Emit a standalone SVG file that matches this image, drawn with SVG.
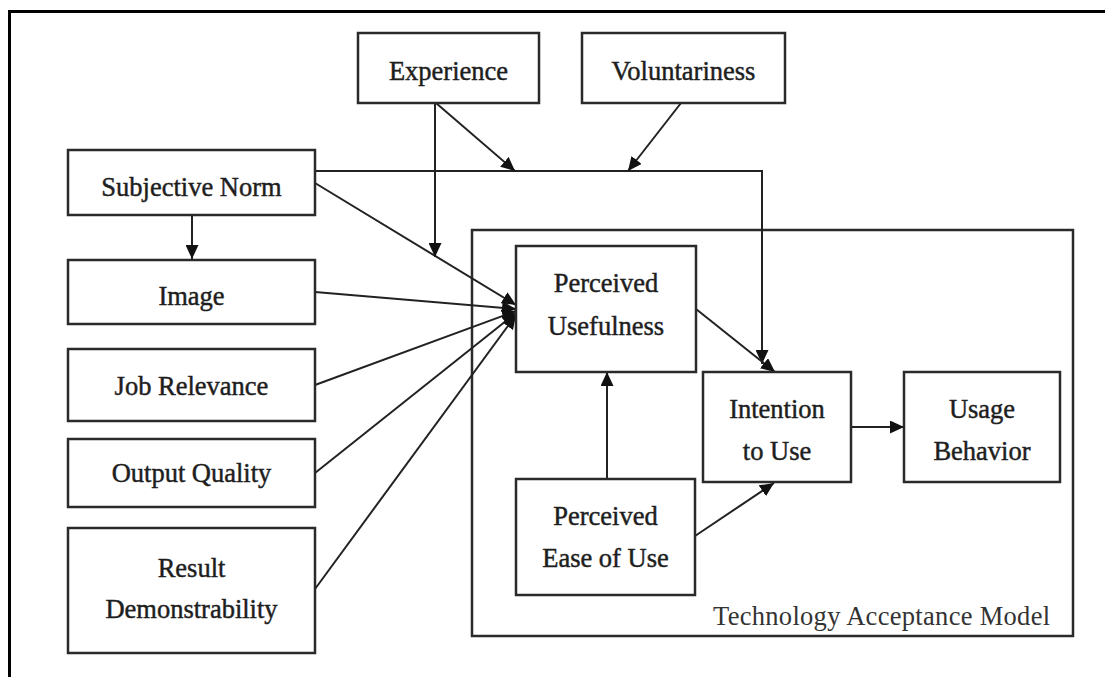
<svg xmlns="http://www.w3.org/2000/svg" width="1105" height="677" viewBox="0 0 1105 677">
  <style>
    .box { fill: #ffffff; stroke: #2a2a2a; stroke-width: 2.5; }
    .lbl { font-family: "Liberation Serif", "Times New Roman", serif; font-size: 26.5px; fill: #1e1e1e; stroke: #1e1e1e; stroke-width: 0.45; text-anchor: middle; }
    .cap { font-family: "Liberation Serif", "Times New Roman", serif; font-size: 26.5px; fill: #333333; letter-spacing: 0.3px; }
    .edge { fill: none; stroke: #222222; stroke-width: 2; }
    .frame { fill: none; stroke: #000000; stroke-width: 3; }
  </style>
  <defs>
    <marker id="arrow" markerUnits="userSpaceOnUse" markerWidth="15" markerHeight="13" refX="14" refY="6.5" orient="auto">
      <path d="M0,0 L14,6.5 L0,13 z" fill="#111111"/>
    </marker>
  </defs>

  <rect width="1105" height="677" fill="#ffffff"/>
  <!-- page frame (only top and left edges fall inside the canvas) -->
  <rect class="frame" x="9.5" y="11.5" width="1200" height="1000"/>

  <!-- model boundary -->
  <g id="tam">
    <rect class="box" x="472" y="230" width="601" height="406"/>
    <text class="cap" x="713" y="625">Technology Acceptance Model</text>
  </g>

  <g id="connectors">
    <!-- Subjective Norm to Image -->
    <line class="edge" x1="192" y1="215" x2="192" y2="259" marker-end="url(#arrow)"/>
    <!-- determinants into Perceived Usefulness -->
    <line class="edge" x1="315" y1="183" x2="516" y2="305" marker-end="url(#arrow)"/>
    <line class="edge" x1="315" y1="292" x2="516" y2="309" marker-end="url(#arrow)"/>
    <line class="edge" x1="315" y1="385" x2="516" y2="311" marker-end="url(#arrow)"/>
    <line class="edge" x1="315" y1="473" x2="516" y2="313" marker-end="url(#arrow)"/>
    <line class="edge" x1="315" y1="589" x2="516" y2="315" marker-end="url(#arrow)"/>
    <!-- Subjective Norm to Intention to Use -->
    <polyline class="edge" points="315,171 762,171 762,364" marker-end="url(#arrow)"/>
    <!-- moderators -->
    <line class="edge" x1="435" y1="103" x2="435" y2="257" marker-end="url(#arrow)"/>
    <line class="edge" x1="436" y1="103" x2="515" y2="171" marker-end="url(#arrow)"/>
    <line class="edge" x1="681" y1="103" x2="628" y2="171" marker-end="url(#arrow)"/>
    <!-- core model -->
    <line class="edge" x1="696" y1="309" x2="775" y2="372" marker-end="url(#arrow)"/>
    <line class="edge" x1="607" y1="479" x2="607" y2="372" marker-end="url(#arrow)"/>
    <line class="edge" x1="695" y1="536" x2="774" y2="483" marker-end="url(#arrow)"/>
    <line class="edge" x1="851" y1="427" x2="904" y2="427" marker-end="url(#arrow)"/>
  </g>

  <g id="experience">
    <rect class="box" x="358" y="33" width="181" height="70"/>
    <text class="lbl" x="448.5" y="80">Experience</text>
  </g>
  <g id="voluntariness">
    <rect class="box" x="582" y="33" width="203" height="70"/>
    <text class="lbl" x="683.5" y="80">Voluntariness</text>
  </g>
  <g id="subjective-norm">
    <rect class="box" x="68" y="150" width="247" height="65"/>
    <text class="lbl" x="191.5" y="196">Subjective Norm</text>
  </g>
  <g id="image">
    <rect class="box" x="68" y="260" width="247" height="64"/>
    <text class="lbl" x="191.5" y="305">Image</text>
  </g>
  <g id="job-relevance">
    <rect class="box" x="68" y="349" width="247" height="72"/>
    <text class="lbl" x="191.5" y="395">Job Relevance</text>
  </g>
  <g id="output-quality">
    <rect class="box" x="68" y="439" width="247" height="68"/>
    <text class="lbl" x="191.5" y="482">Output Quality</text>
  </g>
  <g id="result-demonstrability">
    <rect class="box" x="68" y="528" width="247" height="125"/>
    <text class="lbl" x="191.5" y="577">Result</text>
    <text class="lbl" x="191.5" y="618">Demonstrability</text>
  </g>
  <g id="perceived-usefulness">
    <rect class="box" x="516" y="246" width="180" height="126"/>
    <text class="lbl" x="606" y="292">Perceived</text>
    <text class="lbl" x="606" y="335">Usefulness</text>
  </g>
  <g id="intention-to-use">
    <rect class="box" x="703" y="372" width="148" height="110"/>
    <text class="lbl" x="777" y="418">Intention</text>
    <text class="lbl" x="777" y="460">to Use</text>
  </g>
  <g id="usage-behavior">
    <rect class="box" x="904" y="372" width="156" height="110"/>
    <text class="lbl" x="982" y="418">Usage</text>
    <text class="lbl" x="982" y="460">Behavior</text>
  </g>
  <g id="perceived-ease-of-use">
    <rect class="box" x="516" y="479" width="179" height="116"/>
    <text class="lbl" x="605.5" y="525">Perceived</text>
    <text class="lbl" x="605.5" y="567">Ease of Use</text>
  </g>
</svg>
